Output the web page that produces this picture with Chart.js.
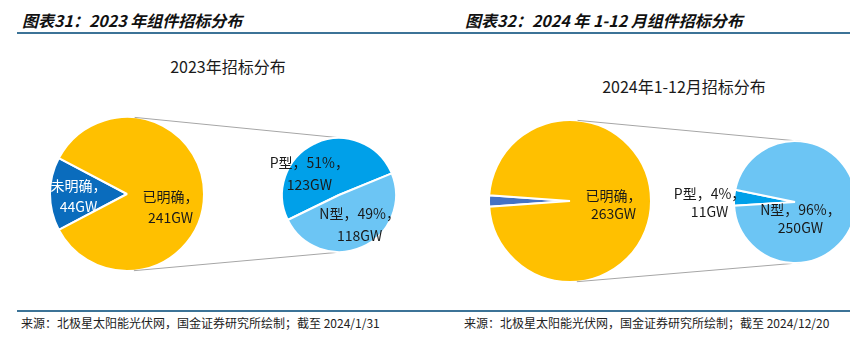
<!DOCTYPE html>
<html>
<head>
<meta charset="utf-8">
<script src="https://cdn.jsdelivr.net/npm/chart.js@4.4.1/dist/chart.umd.min.js"></script>
<style>
  html, body { margin: 0; padding: 0; width: 850px; height: 343px; overflow: hidden; background: #fff; }
  body { position: relative; font-family: "Noto Sans CJK SC", "Noto Sans", sans-serif; color: #111; }
  .head { position: absolute; top: 10px; font-size: 16px; line-height: 20px; font-weight: bold; font-style: italic; white-space: nowrap; }
  .rule { position: absolute; left: 17px; width: 833px; height: 2px; background: #3c7397; }
  .foot { position: absolute; top: 315px; font-size: 12px; line-height: 16px; color: #222; white-space: nowrap; }
  .ctitle { position: absolute; width: 300px; text-align: center; font-size: 16px; line-height: 20px; color: #1a1a1a; white-space: nowrap; }
  .panel { position: absolute; top: 40px; width: 425px; height: 250px; overflow: hidden; }
  .panel canvas { position: absolute; left: 0; top: 0; }
</style>
</head>
<body>
<div class="head" style="left:22px">图表31：2023 年组件招标分布</div>
<div class="head" style="left:465px">图表32：2024 年 1-12 月组件招标分布</div>
<div class="rule" style="top:32px"></div>
<div class="rule" style="top:310px"></div>
<div class="foot" style="left:21px">来源：北极星太阳能光伏网，国金证券研究所绘制；截至 2024/1/31</div>
<div class="foot" style="left:464px">来源：北极星太阳能光伏网，国金证券研究所绘制；截至 2024/12/20</div>
<div class="ctitle" style="left:78px;top:56px">2023年招标分布</div>
<div class="ctitle" style="left:534px;top:76px">2024年1-12月招标分布</div>

<div class="panel" style="left:0">
  <canvas id="big2023" width="425" height="250"></canvas>
  <canvas id="small2023" width="425" height="250"></canvas>
</div>
<div class="panel" style="left:425px">
  <canvas id="big2024" width="440" height="250"></canvas>
  <canvas id="small2024" width="440" height="250"></canvas>
</div>

<script>
// 2023 年
const groups2023 = ['未明确', '已明确'];
const values2023 = [44, 241];
const types2023 = ['P型', 'N型'];
const typeValues2023 = [123, 118];

// 2024 年 1-12 月
const groups2024 = ['未明确', '已明确'];
const values2024 = [6, 263];
const types2024 = ['P型', 'N型'];
const typeValues2024 = [11, 250];

const sum = arr => arr.reduce((a, b) => a + b, 0);

// padding that puts a pie of radius r at (cx, cy) inside a w x h canvas
function padFor(cx, cy, r, w, h) {
    const m = r + 3;
    return { left: cx - m, right: w - cx - m, top: cy - m, bottom: h - cy - m };
}

function labelPlugin(texts, colors, offsets, lineHeight) {
    return {
        id: 'sliceLabels',
        afterDatasetsDraw(chart) {
            const ctx = chart.ctx;
            ctx.save();
            ctx.font = '14px "Noto Sans CJK SC", sans-serif';
            ctx.textAlign = 'center';
            ctx.textBaseline = 'middle';
            chart.getDatasetMeta(0).data.forEach((arc, i) => {
                if (!texts[i]) return;
                const p = arc.tooltipPosition();
                const lines = texts[i].split('\n');
                ctx.fillStyle = colors[i];
                lines.forEach((line, k) => {
                    ctx.fillText(line, p.x + offsets[i][0],
                        p.y + offsets[i][1] + (k - (lines.length - 1) / 2) * lineHeight);
                });
            });
            ctx.restore();
        }
    };
}

// outer tangent lines between the main pie and the breakdown pie
function connectorPlugin(bigChart) {
    return {
        id: 'connector',
        beforeDatasetsDraw(chart) {
            const a = bigChart.getDatasetMeta(0).data[0];
            const b = chart.getDatasetMeta(0).data[0];
            const dx = b.x - a.x, dy = b.y - a.y;
            const d = Math.hypot(dx, dy);
            const ux = dx / d, uy = dy / d;
            const s = (a.outerRadius - b.outerRadius) / d;
            const c = Math.sqrt(1 - s * s);
            const ctx = chart.ctx;
            ctx.save();
            ctx.strokeStyle = '#a6a6a6';
            ctx.lineWidth = 1;
            ctx.beginPath();
            [-1, 1].forEach(sign => {
                const nx = s * ux - sign * c * uy;
                const ny = s * uy + sign * c * ux;
                ctx.moveTo(a.x + a.outerRadius * nx, a.y + a.outerRadius * ny);
                ctx.lineTo(b.x + b.outerRadius * nx, b.y + b.outerRadius * ny);
            });
            ctx.stroke();
            ctx.restore();
        }
    };
}

function pieChart(id, labels, data, colors, rotation, radius, padding, plugins) {
    return new Chart(document.getElementById(id), {
        type: 'pie',
        data: {
            labels: labels,
            datasets: [{
                data: data,
                backgroundColor: colors,
                borderColor: '#ffffff',
                borderWidth: 2
            }]
        },
        options: {
            responsive: false,
            animation: false,
            events: [],
            rotation: rotation,
            radius: radius,
            layout: { padding: padding },
            plugins: { legend: { display: false }, tooltip: { enabled: false } }
        },
        plugins: plugins
    });
}

function groupTexts(names, vals) {
    const t = sum(vals);
    return names.map((n, i) => vals[i] / t < 0.05 ? '' : `${n}，\n${vals[i]}GW`);
}
function typeTexts(names, vals) {
    const t = sum(vals);
    return names.map((n, i) => `${n}，${Math.round(vals[i] / t * 100)}%，\n${vals[i]}GW`);
}

// ---- left panel ----
const big2023 = pieChart('big2023', groups2023, values2023, ['#0a6cbd', '#ffc000'],
    270 - values2023[0] / sum(values2023) * 180, 77, padFor(127, 154, 77, 425, 250),
    [labelPlugin(groupTexts(groups2023, values2023), ['#ffffff', '#1a1a1a'], [[-10, 2], [5, 13]], 21)]);

pieChart('small2023', types2023, typeValues2023, ['#00a0e9', '#6cc5f4'],
    244, 57, padFor(339, 155, 57, 425, 250),
    [connectorPlugin(big2023),
     labelPlugin(typeTexts(types2023, typeValues2023), ['#1a1a1a', '#1a1a1a'], [[-18, 5], [9, 4]], 22)]);

// ---- right panel ----
const big2024 = pieChart('big2024', groups2024, values2024, ['#4472c4', '#ffc000'],
    270 - values2024[0] / sum(values2024) * 180, 81, padFor(145, 161, 81, 440, 250),
    [labelPlugin(groupTexts(groups2024, values2024), ['#ffffff', '#1a1a1a'], [[0, 0], [3, 4]], 18)]);

pieChart('small2024', types2024, typeValues2024, ['#00a0e9', '#6cc5f4'],
    274 - typeValues2024[0] / sum(typeValues2024) * 180, 61, padFor(370, 162, 61, 440, 250),
    [connectorPlugin(big2024),
     labelPlugin(typeTexts(types2024, typeValues2024), ['#1a1a1a', '#1a1a1a'], [[-55, 3], [-25, 15]], 18)]);
</script>
</body>
</html>
